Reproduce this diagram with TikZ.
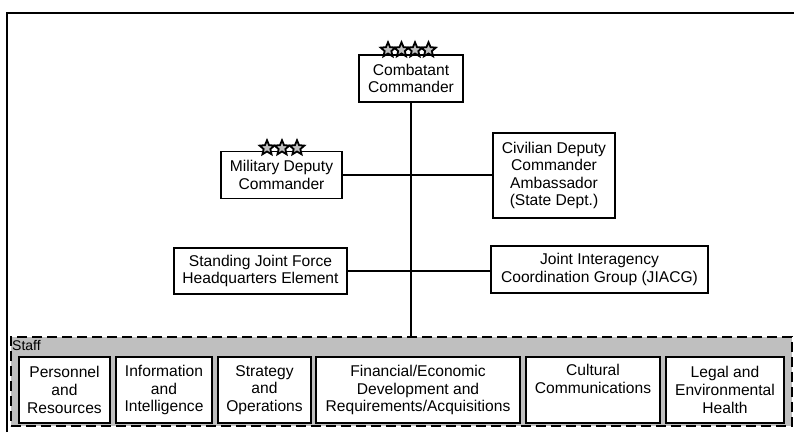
\documentclass[tikz,border=0pt]{standalone}
\usepackage{fontspec}
\setmainfont{Liberation Sans}
\usetikzlibrary{shapes.geometric}
\begin{document}
\begin{tikzpicture}[x=1pt,y=-1pt,
  box/.style={draw,line width=1.8pt,fill=white,align=center,inner sep=0pt,
    font=\fontsize{15.6}{17.6}\selectfont},
  conn/.style={line width=1.7pt},
  rank/.style={star,star points=5,star point ratio=2.2,draw,line width=1.8pt,
    fill=gray!50,minimum size=15.5pt,inner sep=0pt},
  staffbox/.style={draw,line width=2.5pt,dash pattern=on 10pt off 5pt,fill=gray!50,
    inner sep=0pt}]
\useasboundingbox (0,0) rectangle (794,432);
\fill[white] (0,0) rectangle (794,432);
% outer frame
\draw[line width=2pt] (7,432) -- (7,13) -- (794,13);
% staff area
\node[staffbox,minimum width=781pt,minimum height=89pt] (staff) at (401.5,381.5) {};
\node[anchor=north west,inner sep=0pt,font=\fontsize{14}{16}\selectfont] (stafflbl) at (12,340.5) {Staff};
% top boxes
\node[box,minimum width=104pt,minimum height=47pt] (cc) at (411,78.5) {Combatant\\Commander};
\node[box,minimum width=121pt,minimum height=47pt] (mil) at (281.5,175) {Military Deputy\\Commander};
\node[box,minimum width=122pt,minimum height=85pt] (civ) at (554,175.5) {Civilian Deputy\\Commander\\Ambassador\\(State Dept.)};
\node[box,minimum width=173pt,minimum height=46pt] (sjf) at (260.5,271) {Standing Joint Force\\Headquarters Element};
\node[box,minimum width=217pt,minimum height=47pt] (jiacg) at (599.5,269.5) {Joint Interagency\\Coordination Group (JIACG)};
% connectors
\draw[conn] (cc.south) -- (cc.south |- staff.north);
\draw[conn] (mil.east) -- (mil.east -| civ.west);
\draw[conn] (sjf.east) -- (sjf.east -| jiacg.west);
% stars
\node[rank] (s1) at (388,50) {};
\node[rank] (s2) at (401.5,50) {};
\node[rank] (s3) at (415,50) {};
\node[rank] (s4) at (428.5,50) {};
\node[rank] (m1) at (267,148) {};
\node[rank] (m2) at (282,148) {};
\node[rank] (m3) at (297,148) {};
% staff boxes
\node[box,minimum width=91pt,minimum height=66pt] (b1) at (64.5,390) {Personnel\\and\\Resources};
\node[box,minimum width=96pt,minimum height=66pt] (b2) at (164,390) {Information\\and\\Intelligence};
\node[box,minimum width=93pt,minimum height=66pt] (b3) at (264.5,390) {Strategy\\and\\Operations};
\node[box,minimum width=204pt,minimum height=66pt] (b4) at (418,390) {Financial/Economic\\Development and\\Requirements/Acquisitions};
\node[box,minimum width=134pt,minimum height=66pt] (b5) at (593,390) {Cultural\\Communications\\\strut};
\node[box,minimum width=118pt,minimum height=66pt] (b6) at (725,390) {Legal and\\Environmental\\Health};
\end{tikzpicture}
\end{document}
